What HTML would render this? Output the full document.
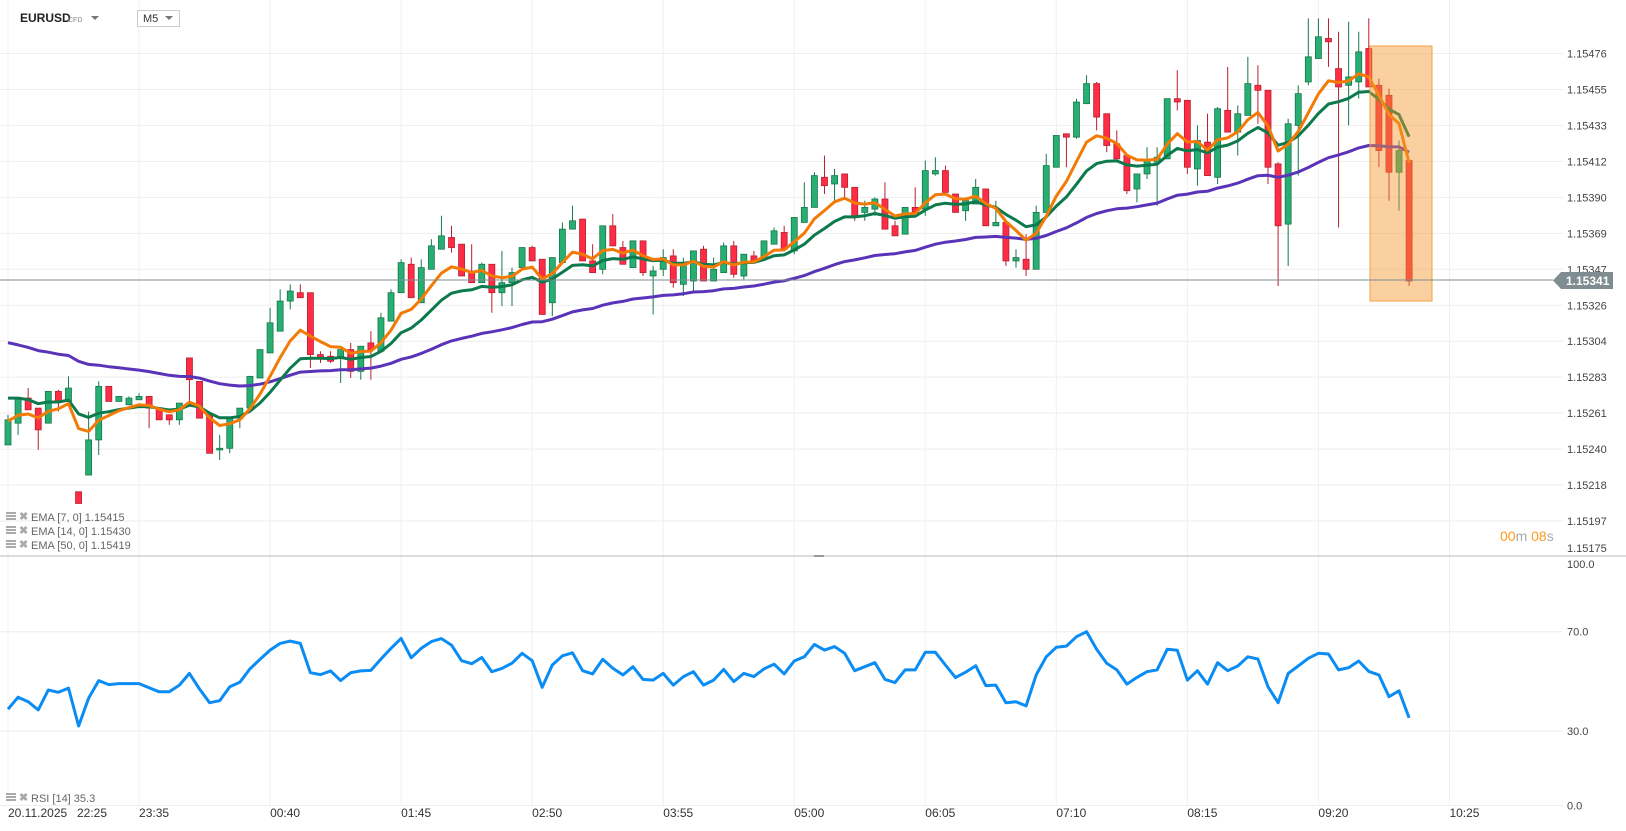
<!DOCTYPE html>
<html><head><meta charset="utf-8"><style>
html,body{margin:0;padding:0;background:#fff;}
svg{display:block;font-family:"Liberation Sans",sans-serif;}
</style></head><body>
<svg id="chart" width="1626" height="831" viewBox="0 0 1626 831">
<defs><clipPath id="pclip"><rect x="0" y="18" width="1450" height="538"/></clipPath></defs>
<rect width="1626" height="831" fill="#fff"/>
<g id="grid"></g>
<g id="candles" clip-path="url(#pclip)"></g>
<g id="emas" clip-path="url(#pclip)"></g>
<rect x="1370" y="46" width="62" height="255" fill="rgba(245,150,45,0.45)" stroke="#f5a040" stroke-width="1"/>
<line x1="0" y1="280" x2="1553" y2="280" stroke="#7f8c91" stroke-width="1"/>
<g id="paxis"></g>
<g><polygon points="1553,280.5 1561,272 1613,272 1613,289 1561,289" fill="#7f8c91"/><text x="1566" y="285" font-size="12" font-weight="bold" fill="#fff">1.15341</text></g>
<text x="1500" y="541" font-size="14"><tspan fill="#ff9a1a">00</tspan><tspan fill="#aaa">m </tspan><tspan fill="#ff9a1a">08</tspan><tspan fill="#aaa">s</tspan></text>
<line x1="0" y1="556" x2="1626" y2="556" stroke="#d0d0d0" stroke-width="1.5"/>
<rect x="814" y="555" width="10" height="2" fill="#999"/>
<g id="rsi"></g>
<g id="taxis"></g>
<g>
<text x="20" y="22" font-size="12" font-weight="bold" fill="#222">EURUSD</text>
<text x="68" y="22" font-size="7" fill="#888">CFD</text>
<polygon points="91,16 99,16 95,20" fill="#777"/>
<rect x="137.5" y="10.5" width="42" height="16" fill="#fff" stroke="#ccc"/>
<text x="143" y="22" font-size="11" fill="#333">M5</text>
<polygon points="165,16 173,16 169,20" fill="#777"/>
</g>
<g id="legend" font-size="11" fill="#666"></g>
</svg>
<script>
// price in points (x1e-5), e.g. 115242 = 1.15242
const openPts=[115242,115255,115270,115264,115255,115274,115268,115214,115224,115245,115277,115268,115266,115269,115271,115263,115260,115257,115294,115280,115260,115239,115240,115258,115264,115282,115297,115310,115328,115333,115333,115296,115295,115294,115299,115286,115303,115298,115316,115333,115350,115327,115347,115359,115366,115362,115346,115339,115350,115333,115339,115348,115360,115353,115327,115351,115371,115377,115352,115347,115373,115360,115348,115364,115343,115347,115355,115338,115340,115359,115340,115345,115361,115343,115355,115353,115362,115369,115358,115375,115384,115402,115398,115404,115396,115381,115383,115389,115373,115368,115384,115383,115404,115406,115392,115382,115386,115395,115373,115375,115352,115353,115347,115381,115408,115428,115426,115446,115458,115440,115422,115415,115395,115404,115411,115413,115449,115448,115407,115423,115402,115442,115429,115439,115457,115454,115410,115374,115433,115459,115473,115485,115467,115457,115459,115479,115457,115451,115405,115412];
const highPts=[115260,115270,115276,115264,115274,115275,115283,115214,115262,115280,115277,115271,115271,115273,115271,115263,115260,115267,115294,115280,115260,115248,115258,115264,115283,115299,115324,115335,115338,115338,115333,115298,115298,115299,115303,115301,115310,115321,115335,115353,115354,115353,115365,115379,115373,115362,115362,115351,115350,115358,115348,115360,115361,115353,115354,115375,115385,115377,115362,115373,115380,115364,115364,115364,115349,115359,115359,115354,115358,115361,115354,115363,115364,115356,115358,115364,115372,115373,115378,115399,115405,115415,115407,115404,115396,115388,115390,115399,115376,115384,115396,115412,115414,115409,115392,115390,115401,115395,115388,115375,115359,115368,115385,115416,115427,115428,115449,115463,115459,115440,115430,115415,115404,115420,115420,115449,115466,115448,115433,115440,115444,115468,115445,115474,115469,115454,115411,115437,115457,115497,115497,115497,115489,115495,115489,115497,115461,115455,115424,115412];
const lowPts=[115242,115248,115263,115239,115255,115262,115268,115207,115224,115236,115268,115268,115266,115269,115252,115257,115254,115254,115268,115258,115237,115233,115237,115252,115264,115282,115297,115310,115323,115330,115288,115291,115291,115279,115282,115281,115281,115298,115316,115333,115330,115327,115347,115359,115357,115343,115339,115339,115321,115325,115325,115348,115352,115320,115319,115351,115371,115352,115345,115344,115361,115350,115348,115343,115320,115343,115336,115331,115334,115340,115340,115345,115342,115341,115352,115352,115362,115359,115356,115375,115384,115392,115388,115390,115376,115376,115379,115371,115367,115368,115381,115379,115403,115393,115381,115376,115386,115373,115373,115349,115348,115343,115347,115381,115408,115408,115425,115446,115430,115417,115413,115392,115387,115401,115385,115413,115442,115404,115397,115403,115398,115429,115415,115439,115434,115398,115337,115349,115403,115457,115473,115468,115372,115433,115449,115456,115408,115388,115382,115337];
const closePts=[115257,115270,115263,115251,115274,115268,115276,115207,115245,115277,115268,115271,115270,115271,115264,115257,115257,115267,115281,115258,115237,115240,115258,115264,115283,115299,115315,115328,115334,115330,115296,115294,115292,115299,115286,115301,115299,115318,115333,115351,115330,115348,115361,115367,115360,115343,115339,115350,115333,115339,115345,115360,115352,115320,115354,115371,115376,115352,115345,115373,115361,115350,115364,115345,115346,115354,115339,115350,115358,115340,115347,115361,115344,115356,115352,115364,115370,115359,115378,115384,115403,115397,115403,115396,115378,115384,115389,115371,115367,115384,115381,115406,115406,115393,115381,115388,115396,115373,115375,115352,115354,115347,115381,115409,115427,115426,115447,115458,115438,115421,115413,115394,115404,115412,115414,115449,115447,115408,115424,115403,115443,115429,115440,115458,115454,115408,115373,115434,115452,115474,115486,115483,115456,115462,115477,115456,115418,115405,115418,115340];
// EMA seed values at first bar (points)
const emaSeed7=115256, emaSeed14=115272, emaSeed50=115305;
const rsiValues=[38.8,43.6,41.8,38.5,46.5,45.6,47.3,32,43.2,50.3,48.7,49.1,49.1,49.1,47.4,45.8,45.8,48.5,53.2,46.9,41.4,42.2,47.8,49.6,55,58.9,62.6,65.3,66.2,65.3,53.5,52.7,54.2,50.3,53.5,54.2,54.4,59,63.3,67.3,59.5,63.3,66,67.2,64.6,58.3,57.1,59.6,53.9,55.2,57.3,61.3,58.3,47.6,56.6,60.3,61.5,54.3,53,58.9,55.3,52.6,55.9,50.8,50.5,53.2,48.5,51.9,53.9,48.5,50.5,54.8,49.9,53.2,51.9,55,56.9,53,58.2,59.9,64.9,62.6,64,61.3,54.3,55.9,57.5,50.8,49.5,54.6,54.6,61.7,61.7,56.6,51.5,53.7,56.3,48.3,48.5,41.4,41.8,40.1,52.6,59.9,63.7,64.2,68,70,62.9,57.3,54.6,48.9,51.6,53.9,54.6,62.9,62.5,50.5,54.3,48.9,57.5,54.3,56.2,59.9,59,47.8,41.4,53.2,56.2,59.3,61.3,61,54.6,55.5,58.2,54,52.6,43.8,46.2,35.3];
const priceTicks=["1.15476","1.15455","1.15433","1.15412","1.15390","1.15369","1.15347","1.15326","1.15304","1.15283","1.15261","1.15240","1.15218","1.15197","1.15175"];
const rsiTicks=[100,70,30,0];
const timeTicks=["22:30","23:35","00:40","01:45","02:50","03:55","05:00","06:05","07:10","08:15","09:20","10:25"];
const timeTickShown=["","23:35","00:40","01:45","02:50","03:55","05:00","06:05","07:10","08:15","09:20","10:25"];

const NS="http://www.w3.org/2000/svg";
function mk(tag,attrs,parent){const e=document.createElementNS(NS,tag);for(const k in attrs)e.setAttribute(k,attrs[k]);parent.appendChild(e);return e;}
const X0=8, BAR=10.08;
function xBar(i){return X0+i*BAR;}
const P_TOP=115476,P_BOT=115175,Y_TOP=53.5,Y_BOT=557;
function yPrice(p){return Y_TOP+(P_TOP-p)*(Y_BOT-Y_TOP)/(P_TOP-P_BOT);}
function yRsi(v){return 805.5-v*2.483;}
function xTime(k){return X0+k*13*BAR;}

const grid=document.getElementById('grid');
const paxis=document.getElementById('paxis');
priceTicks.forEach((t,k)=>{
  const y=Y_TOP+k*(Y_BOT-Y_TOP)/(priceTicks.length-1);
  if(k<priceTicks.length-1){const l=mk('line',{x1:0,x2:1563,y1:y,y2:y,stroke:'#eeeeee','stroke-width':1},grid);
  
  }
  const tx=mk('text',{x:1567,y:Math.min(y+4,552),'font-size':11,fill:'#444'},paxis);tx.textContent=t;
  
  
});
timeTicks.forEach((t,k)=>{
  const x=xTime(k);
  const l=mk('line',{x1:x,x2:x,y1:0,y2:805,stroke:'#f0f0f0','stroke-width':1},grid);
  
  
});
const rsiG=document.getElementById('rsi');
rsiTicks.forEach(v=>{
  const y=yRsi(v);
  if(v<100){const l=mk('line',{x1:0,x2:1563,y1:y,y2:y,stroke:'#eeeeee','stroke-width':1},grid);
  
  }
  const tx=mk('text',{x:1567,y:Math.max(y+4,568),'font-size':11,fill:'#444'},rsiG);tx.textContent=v.toFixed(1);
  
  
});
const cg=document.getElementById('candles');
for(let i=0;i<closePts.length;i++){
  const o=openPts[i],c=closePts[i],h=Math.max(highPts[i],o,c),l=Math.min(lowPts[i],o,c);
  const up=c>=o;const fill=up?'#27ae72':'#fe2d45',stroke=up?'#17774c':'#b71f30';
  const x=xBar(i);
  const w=mk('line',{x1:x,x2:x,y1:yPrice(h),y2:yPrice(l),stroke:stroke,'stroke-width':1},cg);
  
  
  const yt=yPrice(Math.max(o,c)),yb=yPrice(Math.min(o,c));
  const b=mk('rect',{x:x-3,y:yt,width:6,height:Math.max(1.5,yb-yt),fill:fill,stroke:stroke,'stroke-width':0.8},cg);
  
  
}
function ema(n,seed){const a=2/(n+1);let e=seed;return closePts.map(c=>(e=a*c+(1-a)*e));}
const eg=document.getElementById('emas');
[[50,emaSeed50,'#5a34b8','ema-50-line'],[14,emaSeed14,'#0c7a4c','ema-14-line'],[7,emaSeed7,'#f47a06','ema-7-line']].forEach(([n,s,col,name])=>{
  const vals=ema(n,s);
  const pts=vals.map((v,i)=>xBar(i).toFixed(1)+','+yPrice(v).toFixed(1)).join(' ');
  const pl=mk('polyline',{points:pts,fill:'none',stroke:col,'stroke-width':3,'stroke-linejoin':'round'},eg);
  
  
});
const rpts=rsiValues.map((v,i)=>xBar(i).toFixed(1)+','+yRsi(v).toFixed(1)).join(' ');
const rl=mk('polyline',{points:rpts,fill:'none',stroke:'#0a8cf5','stroke-width':3,'stroke-linejoin':'round'},rsiG);


const ta=document.getElementById('taxis');
const d=mk('text',{x:8,y:817,'font-size':12,fill:'#333'},ta);d.textContent='20.11.2025';


const f=mk('text',{x:77,y:817,'font-size':12,fill:'#333'},ta);f.textContent='22:25';


timeTickShown.forEach((t,k)=>{if(!t)return;
  const tx=mk('text',{x:xTime(k),y:817,'font-size':12,fill:'#333'},ta);tx.textContent=t;
  
  
});
const lg=document.getElementById('legend');
[['EMA  [7,  0]  1.15415',521],['EMA  [14,  0]  1.15430',535],['EMA  [50,  0]  1.15419',549],['RSI  [14]  35.3',802]].forEach(([t,y])=>{
  const g=mk('g',{},lg);
  
  
  mk('rect',{x:6,y:y-9,width:10,height:2,fill:'#aaa'},g);
  mk('rect',{x:6,y:y-6,width:10,height:2,fill:'#aaa'},g);
  mk('rect',{x:6,y:y-3,width:10,height:2,fill:'#aaa'},g);
  const xm=mk('text',{x:19,y:y-1,'font-size':11,fill:'#aaa','font-weight':'bold'},g);xm.textContent='✖';
  const tx=mk('text',{x:31,y:y,'font-size':11,fill:'#666'},g);tx.textContent=t;
});
</script>
</body></html>
